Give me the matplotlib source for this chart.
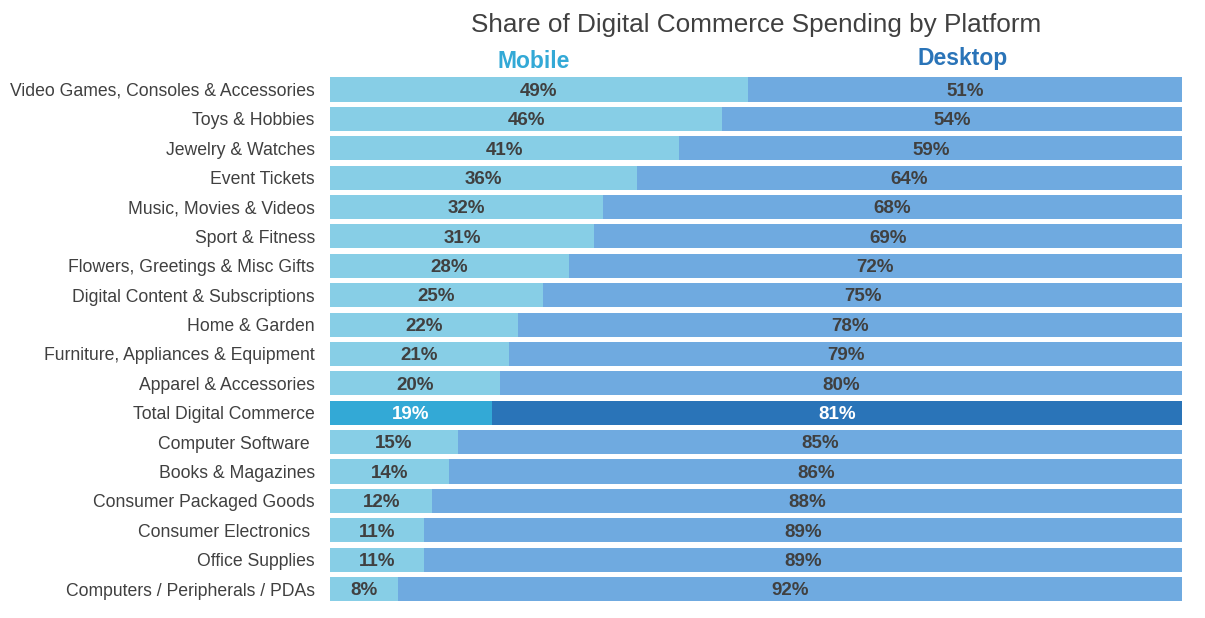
import matplotlib
matplotlib.use("Agg")
import matplotlib.pyplot as plt

categories = [
    "Video Games, Consoles & Accessories", "Toys & Hobbies", "Jewelry & Watches",
    "Event Tickets", "Music, Movies & Videos", "Sport & Fitness",
    "Flowers, Greetings & Misc Gifts", "Digital Content & Subscriptions",
    "Home & Garden", "Furniture, Appliances & Equipment", "Apparel & Accessories",
    "Total Digital Commerce", "Computer Software ", "Books & Magazines",
    "Consumer Packaged Goods", "Consumer Electronics ", "Office Supplies",
    "Computers / Peripherals / PDAs",
]
mobile = [49, 46, 41, 36, 32, 31, 28, 25, 22, 21, 20, 19, 15, 14, 12, 11, 11, 8]
desktop = [51, 54, 59, 64, 68, 69, 72, 75, 78, 79, 80, 81, 85, 86, 88, 89, 89, 92]
highlight = "Total Digital Commerce"

plt.rcParams['font.family'] = ['Liberation Sans', 'DejaVu Sans']

fig = plt.figure(figsize=(12.05, 6.18), dpi=100)
ax = fig.add_axes([0.2739, 0.0231, 0.981 - 0.2739, 0.879 - 0.0231])

c_mob, c_desk = "#87CEE6", "#6FAAE0"
c_mob_h, c_desk_h = "#33A9D6", "#2A74B8"
txt = "#404040"

ys = list(range(len(categories)))
for y, cat, m, d in zip(ys, categories, mobile, desktop):
    h = cat == highlight
    ax.barh(y, m, height=0.82, color=c_mob_h if h else c_mob, linewidth=0)
    ax.barh(y, d, left=m, height=0.82, color=c_desk_h if h else c_desk, linewidth=0)
    tc = "white" if h else txt
    ax.text(m / 2, y + 0.06, f"{m}%", ha="center", va="center", fontsize=13.5,
            fontweight="bold", color=tc)
    ax.text(m + d / 2, y + 0.06, f"{d}%", ha="center", va="center", fontsize=13.5,
            fontweight="bold", color=tc)

ax.set_xlim(0, 100)
ax.set_ylim(len(categories) - 0.5, -0.5)
ax.set_yticks(ys)
ax.set_yticklabels(categories, fontsize=12.7, color=txt)
ax.tick_params(axis="y", length=0, pad=11)
ax.set_xticks([])
for s in ax.spines.values():
    s.set_visible(False)

fig.text(756 / 1205, 1 - 25 / 618, "Share of Digital Commerce Spending by Platform",
         ha="center", va="center", fontsize=18.8, color=txt)
fig.text(534 / 1205, 1 - 61 / 618, "Mobile", ha="center", va="center",
         fontsize=16.5, fontweight="bold", color=c_mob_h)
fig.text(963 / 1205, 1 - 58 / 618, "Desktop", ha="center", va="center",
         fontsize=16.5, fontweight="bold", color=c_desk_h)

fig.savefig("out.png", dpi=100)
